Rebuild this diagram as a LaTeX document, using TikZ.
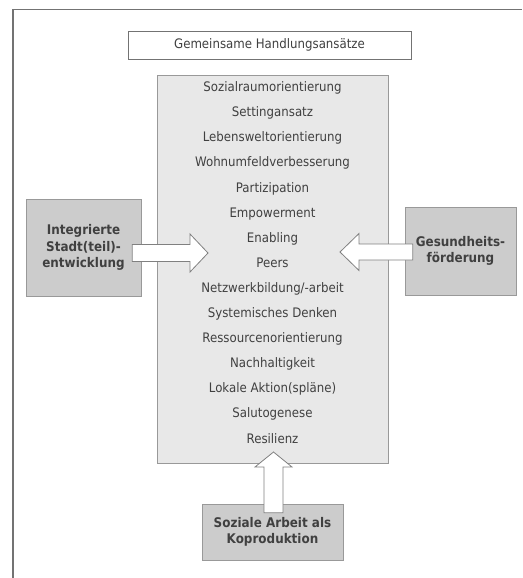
\documentclass[tikz,border=0pt]{standalone}
\usepackage{fontspec}
\setmainfont{DejaVu Sans}[FakeStretch=0.9]
\usetikzlibrary{calc,shapes}
\definecolor{boxedge}{gray}{0.6}
\definecolor{listfill}{gray}{0.91}
\definecolor{sidefill}{gray}{0.80}
\definecolor{inkgray}{gray}{0.25}
\tikzstyle{frame}=[draw=black!55,line width=1.2pt]
\tikzstyle{tbox}=[rectangle,draw=black!55,fill=white,minimum width=283pt,minimum height=28pt,text=inkgray,font=\fontsize{13.1}{15}\selectfont]
\tikzstyle{lbox}=[rectangle,draw=boxedge,fill=listfill,minimum width=231pt,minimum height=388pt]
\tikzstyle{ltext}=[align=center,text=inkgray,font=\fontsize{13.1}{25.1}\selectfont]
\tikzstyle{sbox}=[rectangle,draw=boxedge,fill=sidefill,align=center,text=inkgray,font=\bfseries\fontsize{13.3}{16.5}\selectfont]
\tikzstyle{barrow}=[draw=black!50,fill=white,line width=0.8pt,line join=miter]

\begin{document}
\begin{tikzpicture}[x=1pt,y=-1pt]
\useasboundingbox (0,0) rectangle (522,578);
\draw[frame] (13,578) -- (13,9.5) -- (522,9.5);
\node[tbox] (T) at (269.5,45) {Gemeinsame Handlungsansätze};
\node[lbox] (B) at (272.5,269) {};
\node[ltext] (L) at (272.5,262.5) {Sozialraumorientierung\\Settingansatz\\Lebensweltorientierung\\Wohnumfeldverbesserung\\Partizipation\\Empowerment\\Enabling\\Peers\\Netzwerkbildung/-arbeit\\Systemisches Denken\\Ressourcenorientierung\\Nachhaltigkeit\\Lokale Aktion(spläne)\\Salutogenese\\Resilienz};
\node[sbox,minimum width=115pt,minimum height=97pt] (ISE) at (83.5,247.5) {Integrierte\\Stadt(teil)-\\entwicklung};
\node[sbox,minimum width=111pt,minimum height=88pt] (GF) at (460.5,251) {Gesundheits-\\förderung};
\node[sbox,minimum width=141pt,minimum height=56pt] (SAK) at (272.5,532) {Soziale Arbeit als\\Koproduktion};
\coordinate (tipL) at (208,253);
\coordinate (tipR) at (340,252);
\coordinate (tipB) at (273.5,452);
% block arrows
\draw[barrow] ($(tipL -| ISE.east)+(-9,-8.5)$) -- ($(tipL)+(-18,-8.5)$) -- ($(tipL)+(-18,-19)$) -- (tipL) -- ($(tipL)+(-18,19)$) -- ($(tipL)+(-18,8.5)$) -- ($(tipL -| ISE.east)+(-9,8.5)$) -- cycle;
\draw[barrow] ($(tipR -| GF.west)+(8,-8)$) -- ($(tipR)+(19,-8)$) -- ($(tipR)+(19,-18.5)$) -- (tipR) -- ($(tipR)+(19,18.5)$) -- ($(tipR)+(19,8)$) -- ($(tipR -| GF.west)+(8,8)$) -- cycle;
\draw[barrow] ($(tipB |- SAK.north)+(-9.5,9)$) -- ($(tipB)+(-9.5,15)$) -- ($(tipB)+(-18.5,15)$) -- (tipB) -- ($(tipB)+(18.5,15)$) -- ($(tipB)+(9.5,15)$) -- ($(tipB |- SAK.north)+(9.5,9)$) -- cycle;
\end{tikzpicture}
\end{document}
